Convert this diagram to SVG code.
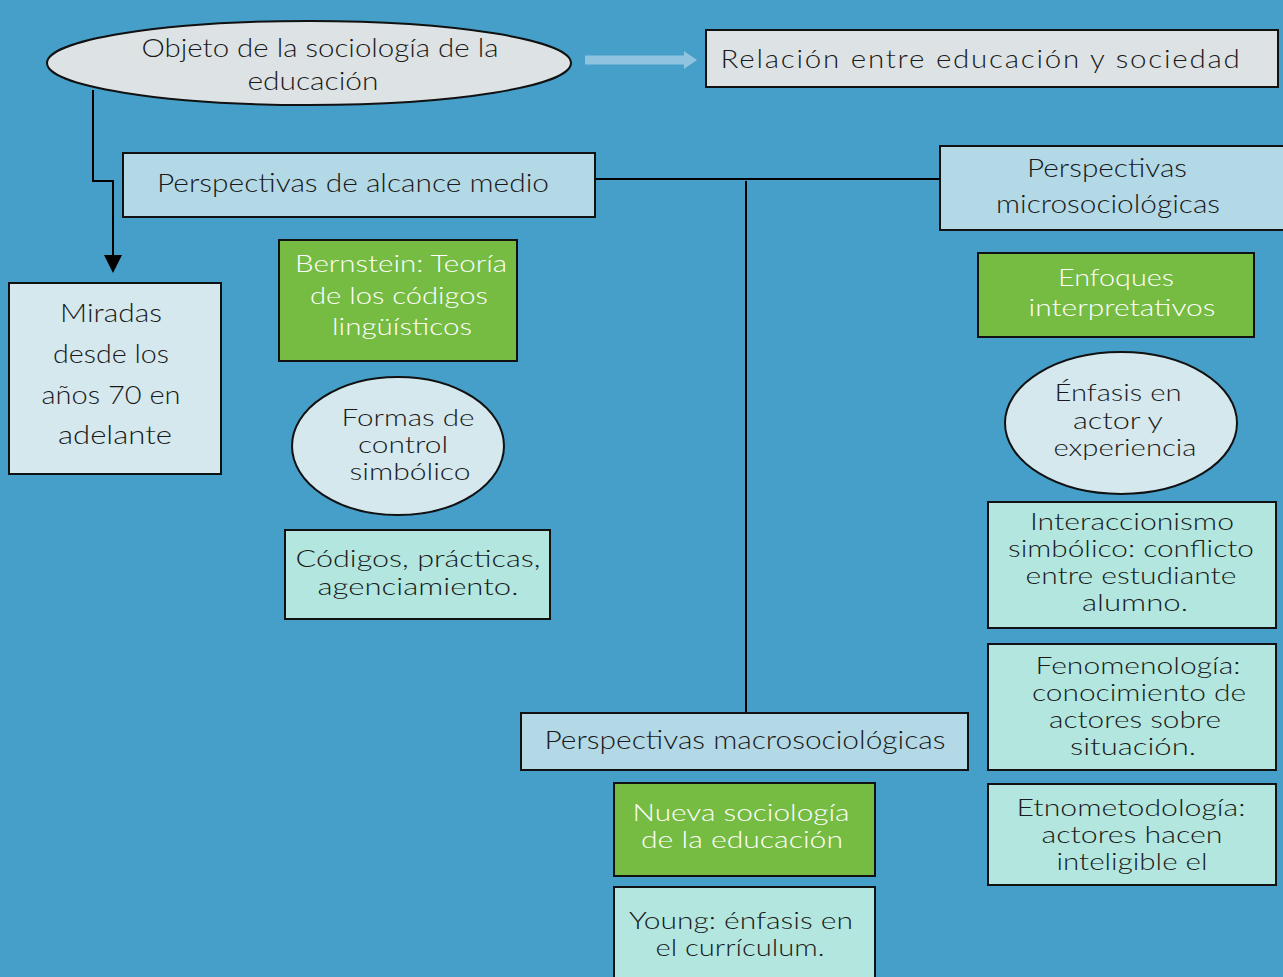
<svg xmlns="http://www.w3.org/2000/svg" width="1283" height="977" viewBox="0 0 1283 977">
<defs>
<style>
.t{font-family:Lato,"Open Sans",sans-serif;font-weight:300;font-size:24px;fill:#1a1a1a;text-anchor:middle;dominant-baseline:central}
.b{font-size:25px}
.w{fill:#fff}
.s{stroke:#111;stroke-width:2}
.grey{fill:#dde2e4}
.lb{fill:#b3d8e6}
.pale{fill:#d4e8ee}
.green{fill:#76bc43}
.mint{fill:#b2e6df}
.c{fill:none;stroke:#000;stroke-width:2}
</style>
</defs>
<rect width="1283" height="977" fill="#459fc8"/>
<g id="connectors">
<path class="c" d="M93,90 V181 H113 V256"/>
<path d="M104,255 L122,255 L113,273 z" fill="#000"/>
<path class="c" d="M595,179 H940"/>
<path class="c" d="M746,181 V712"/>
<path d="M585,60 H684" stroke="#8fc3de" stroke-width="9" fill="none"/>
<path d="M684,51 L697,60 L684,69 z" fill="#8fc3de"/>
</g>
<g id="objeto">
<ellipse class="grey s" cx="309" cy="63" rx="262" ry="42"/>
<text class="t b" x="320" y="47" textLength="357" lengthAdjust="spacingAndGlyphs">Objeto de la sociología de la</text>
<text class="t b" x="313" y="80" textLength="131" lengthAdjust="spacingAndGlyphs">educación</text>
</g>
<g id="relacion">
<rect class="grey s" x="706" y="30" width="572" height="57"/>
<text class="t b" x="981" y="58" style="letter-spacing:1.5px" textLength="521" lengthAdjust="spacingAndGlyphs">Relación entre educación y sociedad</text>
</g>
<g id="alcance-medio">
<rect class="lb s" x="123" y="153" width="472" height="64"/>
<text class="t b" x="353" y="182" textLength="392" lengthAdjust="spacingAndGlyphs">Perspectivas de alcance medio</text>
</g>
<g id="micro">
<rect class="lb s" x="940" y="146" width="345" height="84"/>
<text class="t b" x="1107" y="167" textLength="160" lengthAdjust="spacingAndGlyphs">Perspectivas</text>
<text class="t b" x="1108" y="203" textLength="224" lengthAdjust="spacingAndGlyphs">microsociológicas</text>
</g>
<g id="miradas">
<rect class="pale s" x="9" y="283" width="212" height="191"/>
<text class="t b" x="111" y="312" textLength="102" lengthAdjust="spacingAndGlyphs">Miradas</text>
<text class="t b" x="111" y="353" textLength="116" lengthAdjust="spacingAndGlyphs">desde los</text>
<text class="t b" x="111" y="394" textLength="139" lengthAdjust="spacingAndGlyphs">años 70 en</text>
<text class="t b" x="115" y="434" textLength="114" lengthAdjust="spacingAndGlyphs">adelante</text>
</g>
<g id="bernstein">
<rect class="green s" x="279" y="240" width="238" height="121"/>
<text class="t w" x="401" y="262" textLength="212" lengthAdjust="spacingAndGlyphs">Bernstein: Teoría</text>
<text class="t w" x="399" y="294" textLength="178" lengthAdjust="spacingAndGlyphs">de los códigos</text>
<text class="t w" x="402" y="325" textLength="140" lengthAdjust="spacingAndGlyphs">lingüísticos</text>
</g>
<g id="formas">
<ellipse class="pale s" cx="398" cy="446" rx="106" ry="69"/>
<text class="t" x="408" y="416" textLength="133" lengthAdjust="spacingAndGlyphs">Formas de</text>
<text class="t" x="403" y="443" textLength="90" lengthAdjust="spacingAndGlyphs">control</text>
<text class="t" x="410" y="470" textLength="121" lengthAdjust="spacingAndGlyphs">simbólico</text>
</g>
<g id="codigos">
<rect class="mint s" x="285" y="530" width="265" height="89"/>
<text class="t" x="418" y="557" textLength="245" lengthAdjust="spacingAndGlyphs">Códigos, prácticas,</text>
<text class="t" x="418" y="585" textLength="201" lengthAdjust="spacingAndGlyphs">agenciamiento.</text>
</g>
<g id="enfoques">
<rect class="green s" x="978" y="253" width="276" height="84"/>
<text class="t w" x="1116" y="276" textLength="116" lengthAdjust="spacingAndGlyphs">Enfoques</text>
<text class="t w" x="1122" y="306" textLength="187" lengthAdjust="spacingAndGlyphs">interpretativos</text>
</g>
<g id="enfasis">
<ellipse class="pale s" cx="1121" cy="423" rx="116" ry="71"/>
<text class="t" x="1118" y="391" textLength="127" lengthAdjust="spacingAndGlyphs">Énfasis en</text>
<text class="t" x="1118" y="419" textLength="90" lengthAdjust="spacingAndGlyphs">actor y</text>
<text class="t" x="1125" y="446" textLength="143" lengthAdjust="spacingAndGlyphs">experiencia</text>
</g>
<g id="interaccionismo">
<rect class="mint s" x="988" y="502" width="288" height="126"/>
<text class="t" x="1132" y="520" textLength="204" lengthAdjust="spacingAndGlyphs">Interaccionismo</text>
<text class="t" x="1131" y="547" textLength="246" lengthAdjust="spacingAndGlyphs">simbólico: conflicto</text>
<text class="t" x="1131" y="574" textLength="211" lengthAdjust="spacingAndGlyphs">entre estudiante</text>
<text class="t" x="1135" y="601" textLength="106" lengthAdjust="spacingAndGlyphs">alumno.</text>
</g>
<g id="fenomenologia">
<rect class="mint s" x="988" y="644" width="288" height="126"/>
<text class="t" x="1138" y="664" textLength="205" lengthAdjust="spacingAndGlyphs">Fenomenología:</text>
<text class="t" x="1139" y="691" textLength="214" lengthAdjust="spacingAndGlyphs">conocimiento de</text>
<text class="t" x="1135" y="718" textLength="172" lengthAdjust="spacingAndGlyphs">actores sobre</text>
<text class="t" x="1133" y="745" textLength="126" lengthAdjust="spacingAndGlyphs">situación.</text>
</g>
<g id="etnometodologia">
<rect class="mint s" x="988" y="784" width="288" height="101"/>
<text class="t" x="1131" y="806" textLength="229" lengthAdjust="spacingAndGlyphs">Etnometodología:</text>
<text class="t" x="1132" y="833" textLength="181" lengthAdjust="spacingAndGlyphs">actores hacen</text>
<text class="t" x="1132" y="860" textLength="151" lengthAdjust="spacingAndGlyphs">inteligible el</text>
</g>
<g id="macro">
<rect class="lb s" x="521" y="713" width="447" height="57"/>
<text class="t b" x="745" y="739" textLength="401" lengthAdjust="spacingAndGlyphs">Perspectivas macrosociológicas</text>
</g>
<g id="nueva">
<rect class="green s" x="614" y="783" width="261" height="93"/>
<text class="t w" x="741" y="811" textLength="217" lengthAdjust="spacingAndGlyphs">Nueva sociología</text>
<text class="t w" x="742" y="838" textLength="202" lengthAdjust="spacingAndGlyphs">de la educación</text>
</g>
<g id="young">
<rect class="mint s" x="614" y="887" width="261" height="95"/>
<text class="t" x="741" y="919" textLength="224" lengthAdjust="spacingAndGlyphs">Young: énfasis en</text>
<text class="t" x="740" y="946" textLength="169" lengthAdjust="spacingAndGlyphs">el currículum.</text>
</g>
</svg>
